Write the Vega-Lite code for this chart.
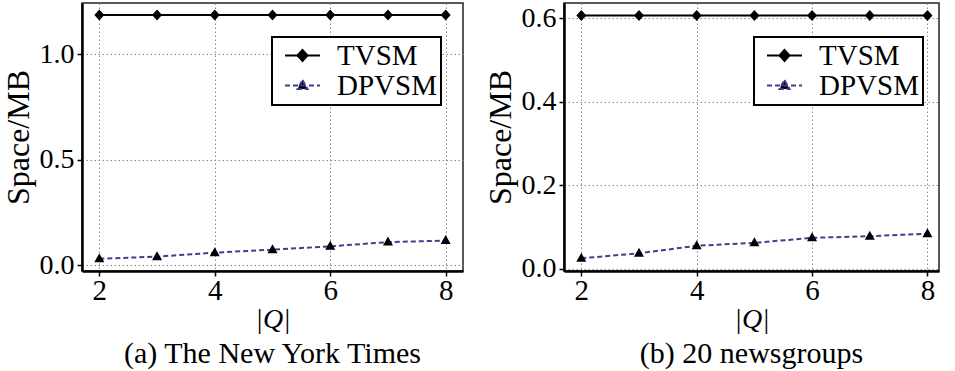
{
  "$schema": "https://vega.github.io/schema/vega-lite/v6.json",
  "padding": {"left": 1, "top": 2, "right": 8, "bottom": 0},
  "spacing": 19,
  "background": "white",
  "config": {
    "font": "Liberation Serif",
    "view": {"stroke": "#222", "strokeWidth": 1.5},
    "style": {"guide-label": {"font": "Liberation Serif", "fill": "black"}, "guide-title": {"font": "Liberation Serif", "fill": "black"}},
    "axis": {
      "labelFont": "Liberation Serif", "labelColor": "black",
      "titleFont": "Liberation Serif", "titleFontWeight": "normal", "titleColor": "black",
      "domainColor": "black", "domainWidth": 2.5,
      "tickColor": "black", "tickSize": 5, "tickWidth": 1.5,
      "gridColor": "#8a8a8a", "gridDash": [1.5, 2.5], "gridWidth": 1
    },
    "legend": {"orient": "none", "legendX": 190, "legendY": 34, "padding": 4, "strokeColor": "black", "fillColor": "white", "strokeWidth": 2,
      "labelFontSize": 29, "labelFont": "Liberation Serif", "labelColor": "black", "symbolSize": 400, "symbolOffset": 12, "labelOffset": 20, "rowPadding": 0, "symbolStrokeWidth": 2},
    "title": {"font": "Liberation Serif", "fontSize": 30, "fontWeight": "normal", "color": "black", "orient": "bottom", "offset": 6}
  },
  "datasets": {
    "a": [
      {"q": 2, "method": "TVSM", "space": 1.186},
      {"q": 3, "method": "TVSM", "space": 1.186},
      {"q": 4, "method": "TVSM", "space": 1.186},
      {"q": 5, "method": "TVSM", "space": 1.186},
      {"q": 6, "method": "TVSM", "space": 1.186},
      {"q": 7, "method": "TVSM", "space": 1.186},
      {"q": 8, "method": "TVSM", "space": 1.186},
      {"q": 2, "method": "DPVSM", "space": 0.031},
      {"q": 3, "method": "DPVSM", "space": 0.041},
      {"q": 4, "method": "DPVSM", "space": 0.060},
      {"q": 5, "method": "DPVSM", "space": 0.074},
      {"q": 6, "method": "DPVSM", "space": 0.090},
      {"q": 7, "method": "DPVSM", "space": 0.110},
      {"q": 8, "method": "DPVSM", "space": 0.117}
    ],
    "b": [
      {"q": 2, "method": "TVSM", "space": 0.607},
      {"q": 3, "method": "TVSM", "space": 0.607},
      {"q": 4, "method": "TVSM", "space": 0.607},
      {"q": 5, "method": "TVSM", "space": 0.607},
      {"q": 6, "method": "TVSM", "space": 0.607},
      {"q": 7, "method": "TVSM", "space": 0.607},
      {"q": 8, "method": "TVSM", "space": 0.607},
      {"q": 2, "method": "DPVSM", "space": 0.025},
      {"q": 3, "method": "DPVSM", "space": 0.037},
      {"q": 4, "method": "DPVSM", "space": 0.055},
      {"q": 5, "method": "DPVSM", "space": 0.062},
      {"q": 6, "method": "DPVSM", "space": 0.074},
      {"q": 7, "method": "DPVSM", "space": 0.078},
      {"q": 8, "method": "DPVSM", "space": 0.084}
    ]
  },
  "hconcat": [
    {
      "width": 381, "height": 268,
      "title": {"text": "(a) The New York Times", "font": "Liberation Serif", "fontSize": 30},
      "data": {"name": "a"},
      "layer": [
        {
          "mark": {"type": "line", "strokeWidth": 2},
          "encoding": {
            "x": {"field": "q", "type": "quantitative", "scale": {"domain": [1.7, 8.3], "nice": false, "zero": false},
              "axis": {"values": [2, 4, 6, 8], "format": "d", "title": "|Q|", "titleFontStyle": "italic", "labelFont": "Liberation Serif", "labelFontSize": 29, "labelPadding": 0, "titleFont": "Liberation Serif", "titleFontSize": 28, "titlePadding": 0}},
            "y": {"field": "space", "type": "quantitative", "scale": {"domain": [-0.027, 1.243], "nice": false, "zero": false},
              "axis": {"values": [0, 0.5, 1.0], "format": ".1f", "title": "Space/MB", "labelFont": "Liberation Serif", "labelFontSize": 28, "labelPadding": 3, "titleFont": "Liberation Serif", "titleFontSize": 32, "titlePadding": 4}},
            "color": {"field": "method", "type": "nominal", "scale": {"domain": ["TVSM", "DPVSM"], "range": ["black", "#3f3f8f"]},
              "legend": {"title": null, "labelFont": "Liberation Serif",
                "encode": {
                  "symbols": {"update": {
                    "fill": {"value": "black"},
                    "strokeDash": {"signal": "datum.value == 'DPVSM' ? [4, 2] : [1, 0]"},
                    "opacity": {"value": 1}
                  }}}}},
            "strokeDash": {"field": "method", "type": "nominal", "scale": {"domain": ["TVSM", "DPVSM"], "range": [[1, 0], [5, 3]]}, "legend": null}
          }
        },
        {
          "mark": {"type": "point", "filled": true, "fill": "black", "opacity": 1, "size": 400},
          "encoding": {
            "x": {"field": "q", "type": "quantitative"},
            "y": {"field": "space", "type": "quantitative"},
            "shape": {"field": "method", "type": "nominal", "scale": {"domain": ["TVSM", "DPVSM"], "range": ["M-1.75,0L1.75,0M0,-0.55L0.5,0L0,0.55L-0.5,0Z", "M-1.75,0L1.75,0M0,-0.55L0.5,0.35L-0.5,0.35Z"]}, "legend": null}
          }
        }
      ]
    },
    {
      "width": 375, "height": 268,
      "title": {"text": "(b) 20 newsgroups", "font": "Liberation Serif", "fontSize": 30},
      "data": {"name": "b"},
      "layer": [
        {
          "mark": {"type": "line", "strokeWidth": 2},
          "encoding": {
            "x": {"field": "q", "type": "quantitative", "scale": {"domain": [1.7, 8.2], "nice": false, "zero": false},
              "axis": {"values": [2, 4, 6, 8], "format": "d", "title": "|Q|", "titleFontStyle": "italic", "labelFont": "Liberation Serif", "labelFontSize": 29, "labelPadding": 0, "titleFont": "Liberation Serif", "titleFontSize": 28, "titlePadding": 0}},
            "y": {"field": "space", "type": "quantitative", "scale": {"domain": [-0.0055, 0.637], "nice": false, "zero": false},
              "axis": {"values": [0, 0.2, 0.4, 0.6], "format": ".1f", "title": "Space/MB", "labelFont": "Liberation Serif", "labelFontSize": 28, "labelPadding": 3, "titleFont": "Liberation Serif", "titleFontSize": 32, "titlePadding": 4}},
            "color": {"field": "method", "type": "nominal", "scale": {"domain": ["TVSM", "DPVSM"], "range": ["black", "#3f3f8f"]},
              "legend": {"title": null, "labelFont": "Liberation Serif",
                "encode": {
                  "symbols": {"update": {
                    "fill": {"value": "black"},
                    "strokeDash": {"signal": "datum.value == 'DPVSM' ? [4, 2] : [1, 0]"},
                    "opacity": {"value": 1}
                  }}}}},
            "strokeDash": {"field": "method", "type": "nominal", "scale": {"domain": ["TVSM", "DPVSM"], "range": [[1, 0], [5, 3]]}, "legend": null}
          }
        },
        {
          "mark": {"type": "point", "filled": true, "fill": "black", "opacity": 1, "size": 400},
          "encoding": {
            "x": {"field": "q", "type": "quantitative"},
            "y": {"field": "space", "type": "quantitative"},
            "shape": {"field": "method", "type": "nominal", "scale": {"domain": ["TVSM", "DPVSM"], "range": ["M-1.75,0L1.75,0M0,-0.55L0.5,0L0,0.55L-0.5,0Z", "M-1.75,0L1.75,0M0,-0.55L0.5,0.35L-0.5,0.35Z"]}, "legend": null}
          }
        }
      ]
    }
  ],
  "resolve": {"scale": {"color": "independent", "strokeDash": "independent", "shape": "independent"}}
}
